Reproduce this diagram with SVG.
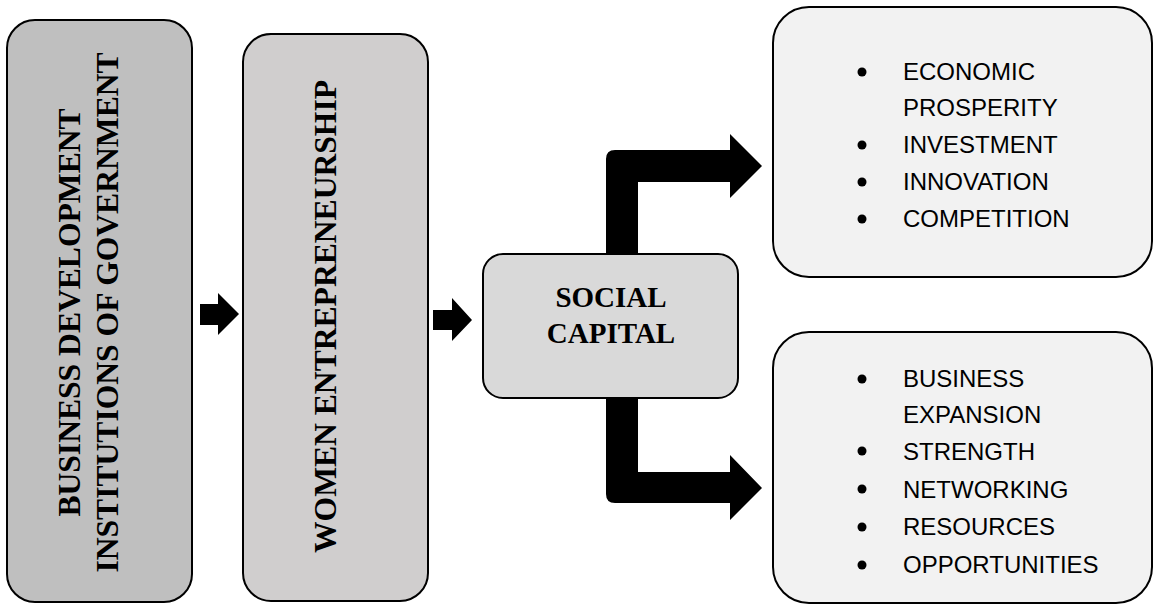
<svg xmlns="http://www.w3.org/2000/svg" width="1154" height="605" viewBox="0 0 1154 605">
<style>
.box{stroke:#000;stroke-width:2}
.vt{font-family:"Liberation Serif","Times New Roman",serif;font-weight:bold;font-size:31.6px;fill:#000;text-anchor:middle}
.st{font-family:"Liberation Serif","Times New Roman",serif;font-weight:bold;font-size:29px;fill:#000;text-anchor:middle}
.li{font-family:"Liberation Sans",Arial,sans-serif;font-size:24px;fill:#000}
.arr{fill:#000}
</style>
<rect width="1154" height="605" fill="#fff"/>
<g id="connectors">
<path class="arr" d="M200,304 L218,304 L218,293 L239,314 L218,335 L218,325 L200,325 Z"/>
<path class="arr" d="M433,310 L452,310 L452,298 L472,320 L452,341 L452,330 L433,330 Z"/>
<path class="arr" d="M606,262 L606,159 Q606,150 615,150 L730,150 L730,134 L762,166 L730,198 L730,182 L638,182 L638,262 Z"/>
<path class="arr" d="M606,390 L606,494 Q606,503 615,503 L730,503 L730,520 L762,488 L730,455 L730,472 L638,472 L638,390 Z"/>
</g>
<g id="node-business">
<rect class="box" x="7" y="20" width="185" height="582" rx="28" fill="#bfbfbf"/>
<text class="vt" transform="translate(80,312.5) rotate(-90)">BUSINESS DEVELOPMENT</text>
<text class="vt" transform="translate(118,312.5) rotate(-90)">INSTITUTIONS OF GOVERNMENT</text>
</g>
<g id="node-women">
<rect class="box" x="243" y="34" width="185" height="567" rx="28" fill="#d0cece"/>
<text class="vt" transform="translate(336,316.5) rotate(-90)">WOMEN ENTREPRENEURSHIP</text>
</g>
<g id="node-social">
<rect class="box" x="483" y="254" width="255" height="144" rx="20" fill="#d9d9d9"/>
<text class="st" x="611" y="307">SOCIAL</text>
<text class="st" x="611" y="343">CAPITAL</text>
</g>
<g id="node-outcomes-top">
<rect class="box" x="773" y="7" width="379" height="270" rx="36" fill="#f2f2f2"/>
<circle cx="862" cy="72" r="4.5"/>
<circle cx="862" cy="145" r="4.5"/>
<circle cx="862" cy="182" r="4.5"/>
<circle cx="862" cy="219" r="4.5"/>
<text class="li" x="903" y="80">ECONOMIC</text>
<text class="li" x="903" y="116">PROSPERITY</text>
<text class="li" x="903" y="153">INVESTMENT</text>
<text class="li" x="903" y="190">INNOVATION</text>
<text class="li" x="903" y="227">COMPETITION</text>
</g>
<g id="node-outcomes-bottom">
<rect class="box" x="773" y="332" width="379" height="271" rx="36" fill="#f2f2f2"/>
<circle cx="862" cy="379" r="4.5"/>
<circle cx="862" cy="451" r="4.5"/>
<circle cx="862" cy="489" r="4.5"/>
<circle cx="862" cy="527" r="4.5"/>
<circle cx="862" cy="565" r="4.5"/>
<text class="li" x="903" y="387">BUSINESS</text>
<text class="li" x="903" y="423">EXPANSION</text>
<text class="li" x="903" y="460">STRENGTH</text>
<text class="li" x="903" y="498">NETWORKING</text>
<text class="li" x="903" y="535">RESOURCES</text>
<text class="li" x="903" y="573">OPPORTUNITIES</text>
</g>
</svg>
